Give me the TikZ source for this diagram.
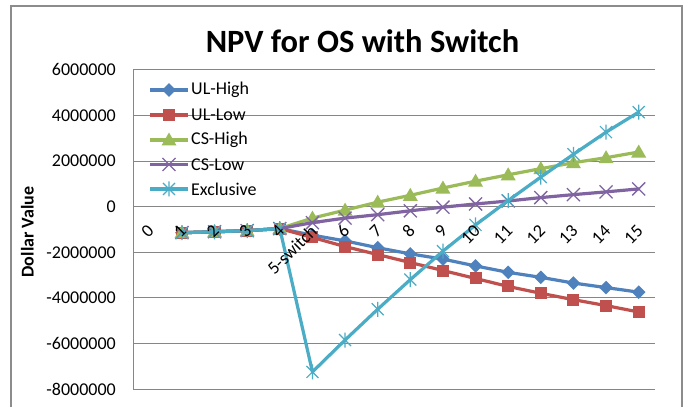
\documentclass[tikz,border=0pt]{standalone}
\usepackage{fontspec}
\setmainfont{Carlito}
\definecolor{sblue}{HTML}{4F81BD}
\definecolor{sred}{HTML}{C0504D}
\definecolor{sgreen}{HTML}{9BBB59}
\definecolor{spurple}{HTML}{8064A2}
\definecolor{scyan}{HTML}{4BACC6}
\definecolor{gridgray}{HTML}{868686}
\definecolor{framegray}{HTML}{8C8C8C}
\tikzset{
  gridline/.style={draw=gridgray, line width=1pt},
  ticklabel/.style={font=\fontsize{18}{20}\selectfont, anchor=east, inner sep=0pt},
  catlabel/.style={font=\fontsize{18}{20}\selectfont, anchor=east, rotate=45, inner sep=0pt},
  legtext/.style={font=\fontsize{18}{20}\selectfont, anchor=west, inner sep=0pt},
  series/.style={line width=3.2pt, line join=round, line cap=round},
  dia/.pic={\fill[sblue] (0pt,6.8pt)--(6.8pt,0pt)--(0pt,-6.8pt)--(-6.8pt,0pt)--cycle;},
  sq/.pic={\fill[sred] (-6pt,-6pt) rectangle (6pt,6pt);},
  tri/.pic={\fill[sgreen] (0pt,7.5pt)--(7.5pt,-5.5pt)--(-7.5pt,-5.5pt)--cycle;},
  crs/.pic={\draw[spurple,line width=1.3pt] (-6.5pt,-6.5pt)--(6.5pt,6.5pt) (-6.5pt,6.5pt)--(6.5pt,-6.5pt);},
  ast/.pic={\draw[scyan,line width=1.2pt] (-6pt,-6pt)--(6pt,6pt) (-6pt,6pt)--(6pt,-6pt) (0pt,-7.5pt)--(0pt,7.5pt);}
}
\begin{document}
\begin{tikzpicture}[x=1pt,y=1pt]
\useasboundingbox (0,0) rectangle (688,407);
\fill[white] (0,0) rectangle (688,407);
\draw[framegray, line width=1.6pt] (11,0) -- (11,401) -- (682,401) -- (682,0);
% title
\node[font=\bfseries\fontsize{32.5}{36}\selectfont, anchor=base, inner sep=0pt] (title) at (362.5,354) {NPV for OS with Switch};
% gridlines
\foreach \v in {6,4,2,0,-2,-4,-6,-8}
  \draw[gridline] (133,{200.3+22.79*\v}) -- (655,{200.3+22.79*\v});
\draw[gridline] (133,{200.3+22.79*6}) -- (133,{200.3-22.79*8});
% value labels
\foreach \v/\t in {6/6000000,4/4000000,2/2000000,0/0,-2/-2000000,-4/-4000000,-6/-6000000,-8/-8000000}
  \node[ticklabel] (tl\v) at (116,{200.3+22.79*\v}) {\t};
\node[font=\bfseries\fontsize{18}{20}\selectfont, rotate=90, inner sep=0pt] (ylabel) at (27.5,175) {Dollar Value};
% series
\begin{scope}[shift={(149.31pt,200.3pt)}, x=32.625pt, y=22.79pt]
  \draw[series, sblue] plot coordinates {(1,-1.14) (2,-1.1) (3,-1.05) (4,-0.96) (5,-1.25) (6,-1.5) (7,-1.8) (8,-2.07) (9,-2.3) (10,-2.6) (11,-2.88) (12,-3.1) (13,-3.35) (14,-3.55) (15,-3.75)};
  \foreach \i/\v in {1/-1.14,2/-1.1,3/-1.05,4/-0.96,5/-1.25,6/-1.5,7/-1.8,8/-2.07,9/-2.3,10/-2.6,11/-2.88,12/-3.1,13/-3.35,14/-3.55,15/-3.75}
    \pic at (\i,\v) {dia};
  \draw[series, sred] plot coordinates {(1,-1.14) (2,-1.1) (3,-1.05) (4,-0.96) (5,-1.35) (6,-1.75) (7,-2.1) (8,-2.45) (9,-2.8) (10,-3.15) (11,-3.5) (12,-3.8) (13,-4.08) (14,-4.34) (15,-4.62)};
  \foreach \i/\v in {1/-1.14,2/-1.1,3/-1.05,4/-0.96,5/-1.35,6/-1.75,7/-2.1,8/-2.45,9/-2.8,10/-3.15,11/-3.5,12/-3.8,13/-4.08,14/-4.34,15/-4.62}
    \pic at (\i,\v) {sq};
  \draw[series, sgreen] plot coordinates {(1,-1.14) (2,-1.1) (3,-1.05) (4,-0.96) (5,-0.5) (6,-0.15) (7,0.2) (8,0.5) (9,0.82) (10,1.12) (11,1.4) (12,1.67) (13,1.93) (14,2.15) (15,2.4)};
  \foreach \i/\v in {1/-1.14,2/-1.1,3/-1.05,4/-0.96,5/-0.5,6/-0.15,7/0.2,8/0.5,9/0.82,10/1.12,11/1.4,12/1.67,13/1.93,14/2.15,15/2.4}
    \pic at (\i,\v) {tri};
  \draw[series, spurple] plot coordinates {(1,-1.14) (2,-1.1) (3,-1.05) (4,-0.96) (5,-0.7) (6,-0.5) (7,-0.35) (8,-0.18) (9,-0.02) (10,0.12) (11,0.25) (12,0.4) (13,0.53) (14,0.65) (15,0.78)};
  \foreach \i/\v in {1/-1.14,2/-1.1,3/-1.05,4/-0.96,5/-0.7,6/-0.5,7/-0.35,8/-0.18,9/-0.02,10/0.12,11/0.25,12/0.4,13/0.53,14/0.65,15/0.78}
    \pic at (\i,\v) {crs};
  \draw[series, scyan] plot coordinates {(1,-1.14) (2,-1.1) (3,-1.05) (4,-0.96) (5,-7.25) (6,-5.85) (7,-4.5) (8,-3.2) (9,-1.95) (10,-0.8) (11,0.27) (12,1.3) (13,2.3) (14,3.27) (15,4.15)};
  \foreach \i/\v in {1/-1.14,2/-1.1,3/-1.05,4/-0.96,5/-7.25,6/-5.85,7/-4.5,8/-3.2,9/-1.95,10/-0.8,11/0.27,12/1.3,13/2.3,14/3.27,15/4.15}
    \pic at (\i,\v) {ast};
\end{scope}
% category labels
\foreach \i/\t in {0/0,1/1,2/2,3/3,4/4,5/5-switch,6/6,7/7,8/8,9/9,10/10,11/11,12/12,13/13,14/14,15/15}
  \node[catlabel] (cat\i) at ({149.31+32.625*\i+1.5},179) {\t};
% legend
\draw[series, sblue, line cap=butt] (150,317) -- (188,317);
\pic at (169,317) {dia};
\node[legtext] (lg1) at (191,317) {UL-High};
\draw[series, sred, line cap=butt] (150,292) -- (188,292);
\pic at (169,292) {sq};
\node[legtext] (lg2) at (191,292) {UL-Low};
\draw[series, sgreen, line cap=butt] (150,267) -- (188,267);
\pic at (169,267) {tri};
\node[legtext] (lg3) at (191,267) {CS-High};
\draw[series, spurple, line cap=butt] (150,242.5) -- (188,242.5);
\pic at (169,242.5) {crs};
\node[legtext] (lg4) at (191,242.5) {CS-Low};
\draw[series, scyan, line cap=butt] (150,218) -- (188,218);
\pic at (169,218) {ast};
\node[legtext] (lg5) at (191,218) {Exclusive};
\end{tikzpicture}
\end{document}
